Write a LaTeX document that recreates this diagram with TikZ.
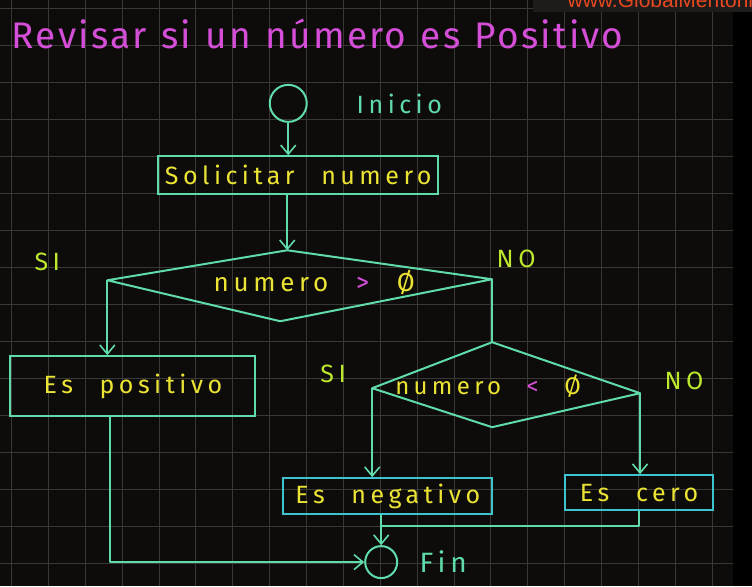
\documentclass[tikz,border=0pt]{standalone}
\usepackage{fontspec}
\setmainfont{Fira Sans}[LetterSpace=6, WordSpace=1.2]
\newfontfamily\manuscrita{Fira Sans}[LetterSpace=18, WordSpace=2.4]
\newfontfamily\marcafont{Liberation Sans}
\usetikzlibrary{arrows.meta}
\definecolor{fondo}{RGB}{14,12,10}
\definecolor{rejilla}{RGB}{56,56,53}
\definecolor{menta}{RGB}{95,220,170}
\definecolor{cian}{RGB}{62,196,206}
\definecolor{amarillo}{RGB}{236,228,52}
\definecolor{lima}{RGB}{190,232,45}
\definecolor{rosa}{RGB}{212,78,216}
\definecolor{marca}{RGB}{232,72,32}
\definecolor{franja}{RGB}{30,28,27}
\begin{document}
\begin{tikzpicture}[x=1pt, y=-1pt,
    trazo/.style={menta, line width=2pt, line join=round},
    flecha/.style={trazo, -{Straight Barb[length=9pt, width=15pt, line width=1.6pt]}},
    caja/.style={draw=menta, line width=2pt, inner sep=0pt, text=amarillo, font=\manuscrita\fontsize{25}{25}\selectfont},
    terminal/.style={circle, draw=menta, line width=2pt, inner sep=0pt},
    condicion/.style={text=amarillo, font=\manuscrita\fontsize{26}{26}\selectfont},
    etiqueta/.style={text=lima, font=\manuscrita\fontsize{25}{25}\selectfont}]

    % Fondo con rejilla
    \fill[fondo] (0,0) rectangle (752,586);
    \foreach \i in {0,...,19}
        \draw[rejilla, line width=0.8pt] ({11+36.9*\i},0) -- ({11+36.9*\i},586);
    \foreach \j in {0,...,15}
        \draw[rejilla, line width=0.8pt] (0,{8+37*\j}) -- (733,{8+37*\j});
    \fill[black] (733,12) rectangle (752,586);

    % Marca de agua recortada
    \fill[franja] (533,0) rectangle (752,12);
    \begin{scope}
        \clip (533,0) rectangle (752,12);
        \node[anchor=base west, text=marca, font=\marcafont\fontsize{21}{21}\selectfont] (marca) at (564,7) {www.GlobalMentoring};
    \end{scope}

    % Titulo
    \node[anchor=base west, text=rosa, font=\fontsize{37}{37}\selectfont] (titulo) at (8,48) {Revisar si un número es Positivo};

    % Inicio y primera caja
    \node[terminal, minimum size=37pt] (inicio) at (288,103) {};
    \node[anchor=west, text=menta, font=\manuscrita\fontsize{25}{25}\selectfont] (txtinicio) at (353,104) {Inicio};
    \node[caja, minimum width=280pt, minimum height=38pt] (solicitar) at (298,175) {Solicitar numero};

    % Primera decision
    \coordinate (d1t) at (287,250);
    \coordinate (d1l) at (107,280);
    \coordinate (d1b) at (280,321);
    \coordinate (d1r) at (492,279);
    \draw[trazo] (d1t) -- (d1r) -- (d1b) -- (d1l) -- cycle;
    \node[condicion] (cond1) at (314,282) {numero \textcolor{rosa}{>} Ø};
    \node[etiqueta] (si1) at (47,262) {SI};
    \node[etiqueta] (no1) at (516,259) {NO};

    % Segunda decision
    \coordinate (d2t) at (492,342);
    \coordinate (d2l) at (372,388);
    \coordinate (d2b) at (492,427);
    \coordinate (d2r) at (640,393);
    \draw[trazo] (d2t) -- (d2r) -- (d2b) -- (d2l) -- cycle;
    \node[condicion, font=\manuscrita\fontsize{24}{24}\selectfont] (cond2) at (488,386) {numero \textcolor{rosa}{<} Ø};
    \node[etiqueta] (si2) at (333,374) {SI};
    \node[etiqueta] (no2) at (684,381) {NO};

    % Resultados
    \node[caja, minimum width=245pt, minimum height=60pt] (positivo) at (132.5,386) {Es positivo};
    \node[caja, draw=cian, minimum width=209pt, minimum height=36pt] (negativo) at (387.5,496) {Es negativo};
    \node[caja, draw=cian, minimum width=148pt, minimum height=35pt] (cero) at (639,492.5) {Es cero};

    % Fin
    \node[terminal, minimum size=32pt] (fin) at (381,562) {};
    \node[anchor=west, text=menta, font=\manuscrita\fontsize{28}{28}\selectfont] (txtfin) at (416,561) {Fin};

    % Conectores
    \draw[flecha] (inicio) -- (inicio |- solicitar.north);
    \draw[flecha] (d1t |- solicitar.south) -- (d1t);
    \draw[flecha] (d1l) -- (d1l |- positivo.north);
    \draw[trazo] (d1r) -- (d2t);
    \draw[flecha] (d2l) -- (d2l |- negativo.north);
    \draw[flecha] (d2r) -- (d2r |- cero.north);
    \coordinate (union) at (381,526);
    \draw[trazo] (negativo.south -| union) -- (union) -- (union -| cero.south) -- (cero.south);
    \draw[flecha] (union) -- (fin);
    \draw[flecha] ([xshift=-22.5pt]positivo.south) |- (fin);
\end{tikzpicture}
\end{document}
